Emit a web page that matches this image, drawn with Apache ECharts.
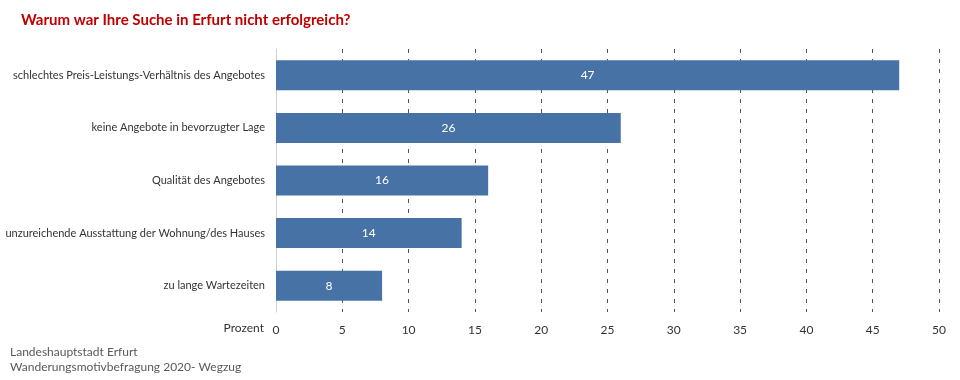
<!DOCTYPE html>
<html><head><meta charset="utf-8">
<script src="https://cdn.jsdelivr.net/npm/echarts@6/dist/echarts.min.js"></script>
<style>html,body{margin:0;padding:0;background:#fff}#c{width:960px;height:380px}</style>
</head><body><div id="c"></div>
<script>
const categories = [
  "schlechtes Preis-Leistungs-Verhältnis des Angebotes",
  "keine Angebote in bevorzugter Lage",
  "Qualität des Angebotes",
  "unzureichende Ausstattung der Wohnung/des Hauses",
  "zu lange Wartezeiten"
];
const values = [47, 26, 16, 14, 8];
const xTicks = [0, 5, 10, 15, 20, 25, 30, 35, 40, 45, 50];
const titleText = "Warum war Ihre Suche in Erfurt nicht erfolgreich?";
const sourceLines = ["Landeshauptstadt Erfurt", "Wanderungsmotivbefragung 2020- Wegzug"];

const F = 'Lato, "Open Sans", sans-serif';
const chart = echarts.init(document.getElementById('c'), null, {renderer: 'canvas'});
chart.setOption({
  animation: false,
  title: {
    text: titleText, left: 16, top: 8,
    textStyle: {color: '#C00000', fontSize: 15, fontWeight: 'bold', fontFamily: F}
  },
  graphic: [{
    type: 'text', left: 10, top: 345,
    style: {text: sourceLines.join('\n'), fill: '#595959', font: '12px ' + F, lineHeight: 15}
  }],
  grid: {left: 276, right: 21, top: 49, bottom: 68, containLabel: false, outerBoundsMode: 'none'},
  xAxis: {
    type: 'value', min: 0, max: 50, interval: 5,
    name: 'Prozent', nameLocation: 'start', nameGap: 12,
    nameTextStyle: {color: '#333', fontSize: 12, fontFamily: F, verticalAlign: 'top', padding: [10, 0, 0, 0]},
    axisLine: {show: false}, axisTick: {show: false},
    axisLabel: {color: '#333', fontSize: 12, fontFamily: F, margin: 12,
      formatter: v => xTicks.includes(v) ? String(v) : ''},
    splitLine: {show: true, lineStyle: {color: '#555', type: [4, 6], width: 1}}
  },
  yAxis: {
    type: 'category', data: categories, inverse: true,
    axisLine: {show: true, lineStyle: {color: '#d0d0d0', width: 1}},
    axisTick: {show: false},
    axisLabel: {color: '#333', fontSize: 11, fontFamily: F, margin: 11}
  },
  series: [{
    type: 'bar', data: values, barWidth: 30, z: 3,
    itemStyle: {color: '#4672A6'},
    label: {show: true, position: 'inside', color: '#fff', fontSize: 12, fontFamily: F}
  }]
});
</script></body></html>
